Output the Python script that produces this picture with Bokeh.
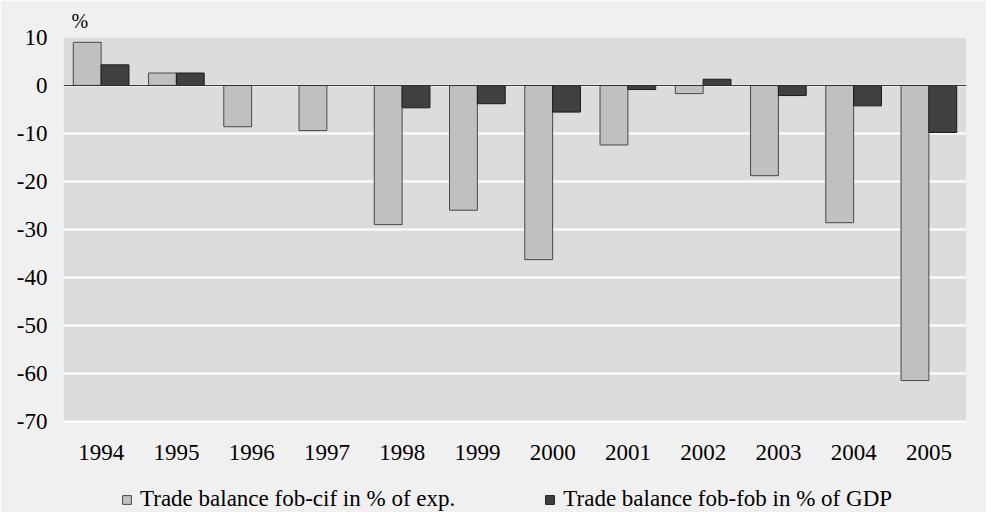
import numpy as np
from bokeh.plotting import figure
from bokeh.models import (ColumnDataSource, Range1d, FixedTicker, Span, Legend,
                          LegendItem, FactorRange, PrintfTickFormatter, Grid)
from bokeh.core.properties import value
from bokeh.transform import dodge
from bokeh.embed import file_html
from bokeh.resources import INLINE

years = ["1994", "1995", "1996", "1997", "1998", "1999", "2000", "2001",
         "2002", "2003", "2004", "2005"]
fob_cif_exp = [9.0, 2.6, -8.6, -9.4, -29.0, -26.0, -36.3, -12.4, -1.7, -18.8, -28.6, -61.5]
fob_fob_gdp = [4.3, 2.6, np.nan, np.nan, -4.65, -3.8, -5.55, -0.85, 1.3, -2.1, -4.25, -9.8]
y_ticks = [-70, -60, -50, -40, -30, -20, -10, 0, 10]
label_a = "Trade balance fob-cif in % of exp."
label_b = "Trade balance fob-fob in % of GDP"

src = ColumnDataSource(dict(year=years,
                            a=np.array(fob_cif_exp, dtype=float),
                            b=np.array(fob_fob_gdp, dtype=float)))

FONT = "Liberation Serif"
FS = "23px"
Y_MIN, Y_MAX = y_ticks[0], y_ticks[-1]

# the frame reaches down to the figure's bottom edge; the grey plot area is
# painted between the first and last y tick by grid bands
p = figure(x_range=FactorRange(*years, range_padding=0),
           y_range=Range1d(-89, Y_MAX),
           width=986, height=512, output_backend="svg", toolbar_location=None,
           x_axis_location=None,
           min_border_left=63, min_border_right=20, min_border_top=37,
           min_border_bottom=0, title="%")

p.background_fill_color = "#f0f0f0"
p.border_fill_color = "#f0f0f0"
p.outline_line_color = None

p.title.text_font = FONT
p.title.text_font_size = "20px"
p.title.text_font_style = "normal"
p.title.text_color = "#000000"
p.title.align = "left"
p.title.offset = 8
p.title.standoff = 11

# grey bands (two complementary band grids), then white grid lines
p.xgrid.grid_line_color = None
p.ygrid.ticker = FixedTicker(ticks=y_ticks[1:])
p.ygrid.grid_line_color = None
p.ygrid.band_fill_color = "#dcdcdc"
p.ygrid.band_fill_alpha = 1
grid_main = Grid(dimension=1, ticker=FixedTicker(ticks=y_ticks),
                 grid_line_color="#ffffff", grid_line_width=2,
                 band_fill_color="#dcdcdc", band_fill_alpha=1)
p.add_layout(grid_main)

ra = p.vbar(x=dodge("year", -0.185, range=p.x_range), top="a", width=0.37, source=src,
            fill_color="#c0c0c0", line_color="#484848", line_width=1)
rb = p.vbar(x=dodge("year", 0.185, range=p.x_range), top="b", width=0.37, source=src,
            fill_color="#404040", line_color="#1a1a1a", line_width=1)

p.add_layout(Span(location=0, dimension="width", line_color="#333333", line_width=1))

# year labels below the grey area
p.text(x="year", y=Y_MIN, text="year", source=src, y_offset=31,
       text_align="center", text_baseline="middle",
       text_font=value(FONT), text_font_size=FS, text_color="#000000")

yax = p.yaxis[0]
yax.ticker = FixedTicker(ticks=y_ticks)
yax.formatter = PrintfTickFormatter(format="%d")
yax.axis_line_color = None
yax.major_tick_line_color = None
yax.minor_tick_line_color = None
yax.major_label_text_font = FONT
yax.major_label_text_font_size = FS
yax.major_label_text_color = "#000000"
yax.major_label_standoff = 10

legend = Legend(items=[LegendItem(label=label_a, renderers=[ra]),
                       LegendItem(label=label_b, renderers=[rb])],
                orientation="horizontal", location=(58, 0),
                margin=0, padding=0, spacing=89, label_standoff=8,
                glyph_width=11, glyph_height=11, label_height=22,
                label_text_font=FONT, label_text_font_size=FS,
                label_text_color="#000000",
                border_line_color=None, background_fill_alpha=0)
p.add_layout(legend, "center")

open("out.html", "w").write(file_html(p, INLINE))
